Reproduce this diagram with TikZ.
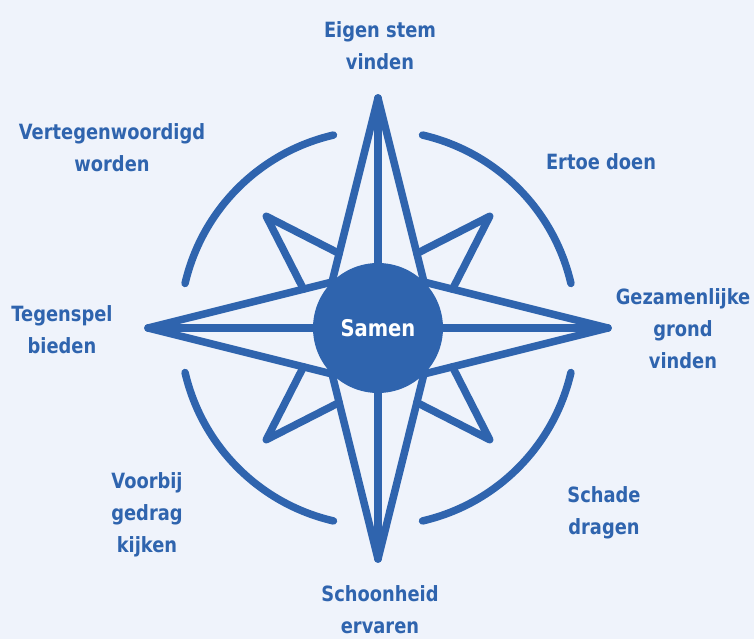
\documentclass[tikz,border=0pt]{standalone}
\usepackage{fontspec}
\setmainfont{DejaVu Sans}[FakeStretch=0.85]
\usepackage{xcolor}
\usetikzlibrary{positioning,calc}
\definecolor{compassblue}{RGB}{47,100,174}
\definecolor{paperblue}{RGB}{239,243,251}

\begin{document}
\begin{tikzpicture}[x=1pt,y=1pt]
        \tikzset{
          ray/.style={draw=compassblue, line width=7.5pt, line cap=round, line join=round},
          lbl/.style={text=compassblue, align=center, inner sep=0pt, font=\bfseries\fontsize{21}{32}\selectfont}
        }
        % Background and page size
        \fill[paperblue] (-378,-311) rectangle (376,328);
        \useasboundingbox (-378,-311) rectangle (376,328);

        % Compass points
        \coordinate (c) at (0,0);
        \coordinate (n) at (90:230);
        \coordinate (s) at (270:231);
        \coordinate (w) at (180:230);
        \coordinate (e) at (0:230);
        \coordinate (ne) at (45:65);
        \coordinate (nw) at (135:65);
        \coordinate (sw) at (225:65);
        \coordinate (se) at (315:65);
        \coordinate (ne-tip) at (45:158);
        \coordinate (nw-tip) at (135:158);
        \coordinate (sw-tip) at (225:158);
        \coordinate (se-tip) at (315:158);

        % Outer ring
        \draw[ray] (13:198) arc (13:77:198);
        \draw[ray] (103:198) arc (103:167:198);
        \draw[ray] (193:198) arc (193:257:198);
        \draw[ray] (283:198) arc (283:347:198);

        % Small diagonal points
        \draw[ray] (27.5:84) -- (ne-tip) -- (62.5:84);
        \draw[ray] (117.5:84) -- (nw-tip) -- (152.5:84);
        \draw[ray] (207.5:84) -- (sw-tip) -- (242.5:84);
        \draw[ray] (297.5:84) -- (se-tip) -- (332.5:84);

        % Main star
        \draw[ray] (n) -- (nw) -- (w) -- (sw) -- (s) -- (se) -- (e) -- (ne) -- cycle;
        \draw[ray] (n) -- (s);
        \draw[ray] (w) -- (e);

        % Centre
        \fill[compassblue] (c) circle (65);
        \node[lbl, text=white, font=\bfseries\fontsize{23}{28}\selectfont] (samen) at (c) {Samen};

        % Labels
        \node[lbl] (eigen) at (2,282) {Eigen stem\\vinden};
        \node[lbl] (ertoe) at (223,166) {Ertoe doen};
        \node[lbl] (grond) at (305,-1) {Gezamenlijke\\grond\\vinden};
        \node[lbl] (schade) at (226,-185) {Schade\\dragen};
        \node[lbl] (schoon) at (2,-282) {Schoonheid\\ervaren};
        \node[lbl] (voorbij) at (-231,-187) {Voorbij\\gedrag\\kijken};
        \node[lbl] (tegen) at (-316,-2) {Tegenspel\\bieden};
        \node[lbl] (vert) at (-266,180) {Vertegenwoordigd\\worden};
    \end{tikzpicture}
\end{document}
